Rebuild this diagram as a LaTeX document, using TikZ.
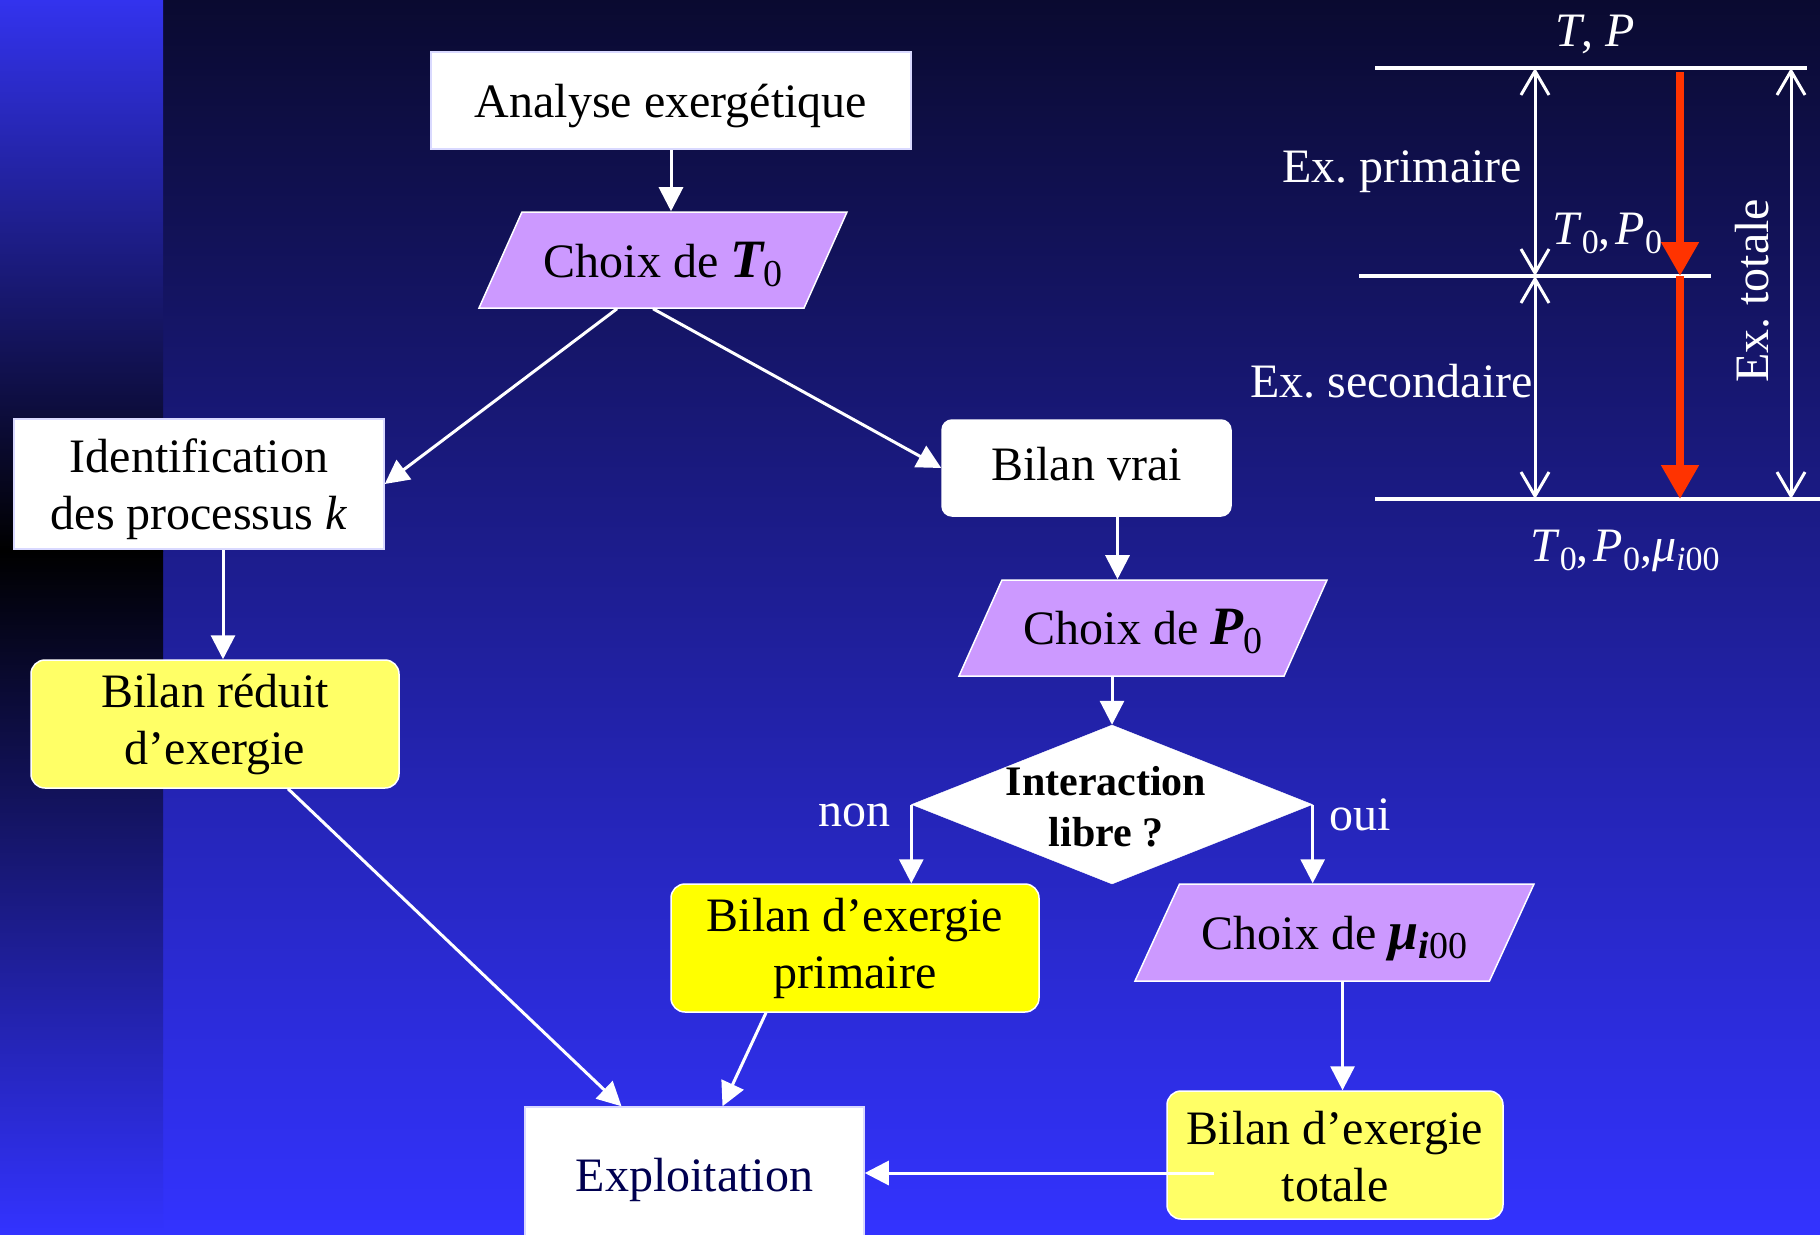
\documentclass[tikz,border=0pt]{standalone}
\usepackage{fontspec}
\setmainfont{Liberation Serif}
\usetikzlibrary{arrows.meta,shapes.geometric,calc}
\definecolor{lav}{HTML}{CC99FF}
\definecolor{ylw}{HTML}{FFFF66}
\definecolor{ylwB}{HTML}{FFFF00}
\definecolor{redA}{HTML}{FF3300}
\definecolor{bgTop}{HTML}{0A0A30}
\definecolor{bgMid}{HTML}{2727C0}
\definecolor{bgBot}{HTML}{3333FF}
\definecolor{stripTop}{HTML}{3333EE}
\definecolor{navyT}{HTML}{000050}
\frenchspacing
\newcommand\sbx[1]{\raisebox{-9pt}{\fontsize{38}{38}\selectfont #1}}
\newcommand\sbs[1]{\raisebox{-9pt}{\fontsize{34}{34}\selectfont #1}}
\newcommand\bigf{\fontsize{48}{57}\selectfont}
\newcommand\bigv{\fontsize{54}{57}\selectfont}
\newcommand\dn[2]{\raisebox{#1}[\height][\depth]{\begin{tabular}{@{}c@{}}#2\end{tabular}}}
\begin{document}
\begin{tikzpicture}[x=1pt,y=-1pt,
  box/.style={draw=white!85!blue, line width=1.5pt, fill=white, inner sep=0pt, font=\bigf, align=center, text=black},
  rbox/.style={box, draw=white, rounded corners=14pt},
  para/.style={shape=trapezium, trapezium left angle=53, trapezium right angle=127,
     trapezium stretches body, draw=white, line width=1.5pt, fill=lav, inner sep=0pt,
     font=\bigf, text=black},
  dia/.style={shape=diamond, fill=white, draw=white, inner sep=0pt},
  arr/.style={draw=white, line width=3pt, -{Triangle[length=24pt,width=24pt]}},
  lbl/.style={text=white, font=\bigf, inner sep=0pt},
  hl/.style={draw=white, line width=4pt},
  dbl/.style={draw=white, line width=3pt, <->, >={Straight Barb[length=24pt,width=28pt]}},
  redarr/.style={draw=redA, line width=8pt, -{Triangle[length=34pt,width=36pt]}}
]
\useasboundingbox (0,0) rectangle (1820,1234);
% background
\shade[top color=bgTop, middle color=bgMid, bottom color=bgBot] (163,0) rectangle (1820,1234);
\shade[top color=stripTop, bottom color=black] (0,0) rectangle (163,551);
\shade[top color=black, bottom color=bgBot] (0,551) rectangle (163,1234);

% nodes
\node[box, minimum width=480pt, minimum height=97pt] (ana) at (671,100.5) {\dn{-6pt}{Analyse exergétique}};
\node[para, minimum width=368pt, minimum height=96pt] (t0) at (663,260) {\dn{-6pt}{Choix de {\bfseries\itshape\bigv T}\sbx{0}}};
\node[box, minimum width=370pt, minimum height=130pt] (ident) at (199,484) {\dn{-6pt}{Identification\\des processus \textit{k}}};
\node[box, draw=white, rounded corners=10pt, minimum width=289pt, minimum height=96pt] (bvrai) at (1086.5,468) {\dn{-1pt}{Bilan vrai}};
\node[para, minimum width=368pt, minimum height=96pt] (p0) at (1143,628) {\dn{-5pt}{Choix de {\bfseries\itshape\bigv P}\sbx{0}}};
\node[dia, minimum width=401pt, minimum height=159pt,
      label={[font=\fontsize{42}{51}\selectfont\bfseries, align=center, text=black, xshift=-6pt, yshift=-2pt]center:Interaction\\libre ?}] (inter) at (1112,804.5) {};
\node[rbox, fill=ylw, minimum width=368pt, minimum height=128pt] (reduit) at (215,724) {Bilan réduit\\d’exergie};
\node[rbox, fill=ylwB, minimum width=368pt, minimum height=128pt] (prim) at (855,948) {Bilan d’exergie\\primaire};
\node[para, trapezium left angle=52, trapezium right angle=128, minimum width=399pt, minimum height=97pt] (mu) at (1334.5,932.5) {\dn{-6pt}{Choix de {\bfseries\itshape\bigv μ}\sbx{{\bfseries\itshape i}00}}};
\node[rbox, fill=ylw, minimum width=336pt, minimum height=128pt] (tot) at (1335,1155) {\dn{-7pt}{Bilan d’exergie\\totale}};
\node[box, minimum width=339pt, minimum height=136pt, text=navyT] (expl) at (694.5,1175) {\dn{-5pt}{Exploitation}};

\node[lbl] (non) at (854,815) {non};
\node[lbl] (oui) at (1360,815) {oui};

% connectors
\draw[arr] (ana.south) -- (ana.south |- t0.north);
\draw[arr] ($(t0.south)+(-46,0)$) -- (ident.east);
\draw[arr] ($(t0.south)+(-10,0)$) -- (bvrai.west);
\draw[arr] ($(ident.south)+(24,0)$) coordinate (a1) -- (a1 |- reduit.north);
\draw[arr] ($(bvrai.south)+(31,0)$) coordinate (a2) -- (a2 |- p0.north);
\draw[arr] (inter.north |- p0.south) -- (inter.north);
\draw[arr] (inter.west) -- (inter.west |- prim.north);
\draw[arr] (inter.east) -- (inter.east |- mu.north);
\draw[arr] ($(mu.south)+(8,0)$) coordinate (a3) -- (a3 |- tot.north);
\draw[arr] ($(reduit.south)+(73,0)$) -- ($(expl.north)+(-73,0)$);
\draw[arr] ($(prim.south)+(-89,0)$) -- ($(expl.north)+(28,0)$);
\draw[arr] ($(tot.west)+(48,18)$) coordinate (a4) -- (expl.east |- a4);

% right scheme
\coordinate (tl) at (1375,68);  \coordinate (tr) at (1807,68);
\coordinate (ml) at (1359,276); \coordinate (mr) at (1711,276);
\coordinate (bl) at (1375,499); \coordinate (br) at (1820,499);
\draw[hl] (tl) -- (tr);
\draw[hl] (ml) -- (mr);
\draw[hl] (bl) -- (br);
\coordinate (d1) at (1535,68); \coordinate (d2) at (1535,276); \coordinate (d3) at (1535,499);
\draw[dbl] (d1) -- (d2);
\draw[dbl] (d2) -- (d3);
\coordinate (r1) at (1680,72); \coordinate (r2) at (1680,276); \coordinate (r3) at (1680,499);
\draw[redarr] (r1) -- (r2);
\draw[redarr] (r2) -- (r3);
\coordinate (e1) at (1791,68); \coordinate (e2) at (1791,499);
\draw[dbl] (e1) -- (e2);

\node[lbl] (tp) at (1595,34) {\textit{T}, \textit{P}};
\node[lbl, anchor=west] (exp) at (1282,172) {Ex. primaire};
\node[lbl, anchor=west] (t0p0) at (1552,233) {\textit{T}\sbs{0},\kern5pt\textit{P}\sbs{0}};
\node[lbl, anchor=west] (exs) at (1250,381) {Ex. secondaire};
\node[lbl, rotate=90] (ext) at (1752,291) {Ex. totale};
\node[lbl, anchor=west] (t0p0mu) at (1530,551) {\textit{T}\sbs{0},\kern5pt\textit{P}\sbs{0},\textit{μ}\sbs{\textit{i}00}};
\end{tikzpicture}
\end{document}
